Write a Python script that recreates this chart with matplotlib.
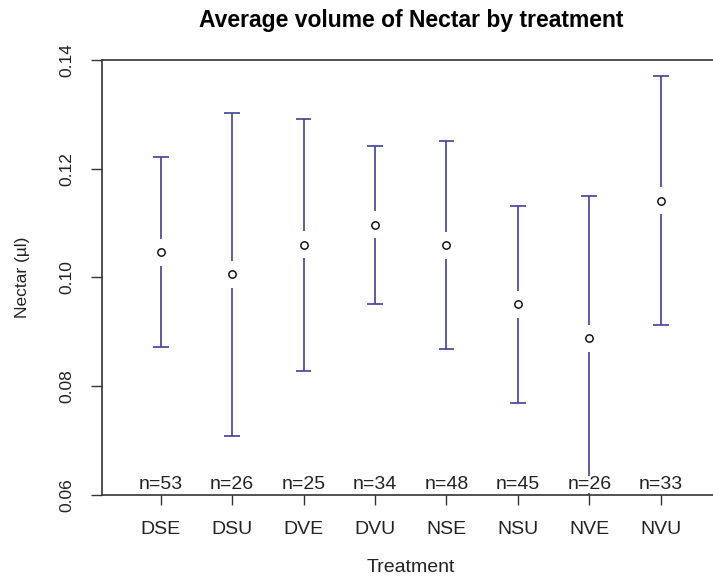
import matplotlib
matplotlib.use("Agg")
import matplotlib.pyplot as plt
import numpy as np

# group labels and values (plotmeans style)
treatments = ["DSE", "DSU", "DVE", "DVU", "NSE", "NSU", "NVE", "NVU"]
n_obs = [53, 26, 25, 34, 48, 45, 26, 33]
means = [0.1046, 0.1006, 0.1060, 0.1097, 0.1059, 0.0951, 0.0888, 0.1141]
upper = [0.1221, 0.1302, 0.1291, 0.1241, 0.1251, 0.1131, 0.1149, 0.1370]
lower = [0.0872, 0.0709, 0.0828, 0.0951, 0.0868, 0.0770, 0.0580, 0.0912]

BAR_COL = "#40409A"
TXT_COL = "#222222"

plt.rcParams['font.family'] = ['Liberation Sans', 'DejaVu Sans']

fig = plt.figure(figsize=(7.13, 5.82), dpi=100)
ax = fig.add_axes([0.1426, 0.1495, 0.8668, 0.7474])

x = np.arange(1, len(treatments) + 1)
ax.set_xlim(0.174, 8.826)
ax.set_ylim(0.06, 0.14)

# gap round the mean circle, in pixels -> data units
gap_px = 13.5
ax_h_px = 0.7474 * 582
gap = gap_px * (0.14 - 0.06) / ax_h_px
cap_w = 0.11

for xi, m, lo, hi in zip(x, means, lower, upper):
    ax.vlines(xi, m + gap, hi, color=BAR_COL, lw=1.2, zorder=2)
    ax.vlines(xi, lo, m - gap, color=BAR_COL, lw=1.2, zorder=2)
    ax.hlines([hi, lo], xi - cap_w, xi + cap_w, color=BAR_COL, lw=1.2, zorder=2)

ax.plot(x, means, 'o', ms=5.3, mfc='white', mec='black', mew=1.0, ls='none', zorder=3)

# n= labels sitting on the bottom axis
for xi, n in zip(x, n_obs):
    ax.annotate("n=%d" % n, (xi, 0.06), xytext=(0, 1.5), textcoords='offset points',
                ha='center', va='bottom', fontsize=14, color=TXT_COL, zorder=4,
                bbox=dict(facecolor='white', edgecolor='none', pad=0.3))

ax.set_xticks(x)
ax.set_xticklabels(treatments, fontsize=14, color=TXT_COL)
ax.set_yticks([0.06, 0.08, 0.10, 0.12, 0.14])
ax.set_yticklabels(["0.06", "0.08", "0.10", "0.12", "0.14"], fontsize=12.5,
                   color=TXT_COL, rotation=90, va='center')
ax.tick_params(axis='x', length=7.5, width=1, pad=11, colors='#333333', labelcolor=TXT_COL)
ax.tick_params(axis='y', length=8, width=1, pad=12, colors='#333333', labelcolor=TXT_COL)

for s in ax.spines.values():
    s.set_color('#333333')
    s.set_linewidth(1.2)

ax.set_xlabel("Treatment", fontsize=14, color=TXT_COL, labelpad=15)
ax.set_ylabel("Nectar (µl)", fontsize=12.5, color=TXT_COL, labelpad=21)
fig.text(0.5762, 0.965, "Average volume of Nectar by treatment", ha='center', va='center',
         fontsize=16.5, fontweight='bold', color='black')

fig.savefig("out.png", dpi=100)
